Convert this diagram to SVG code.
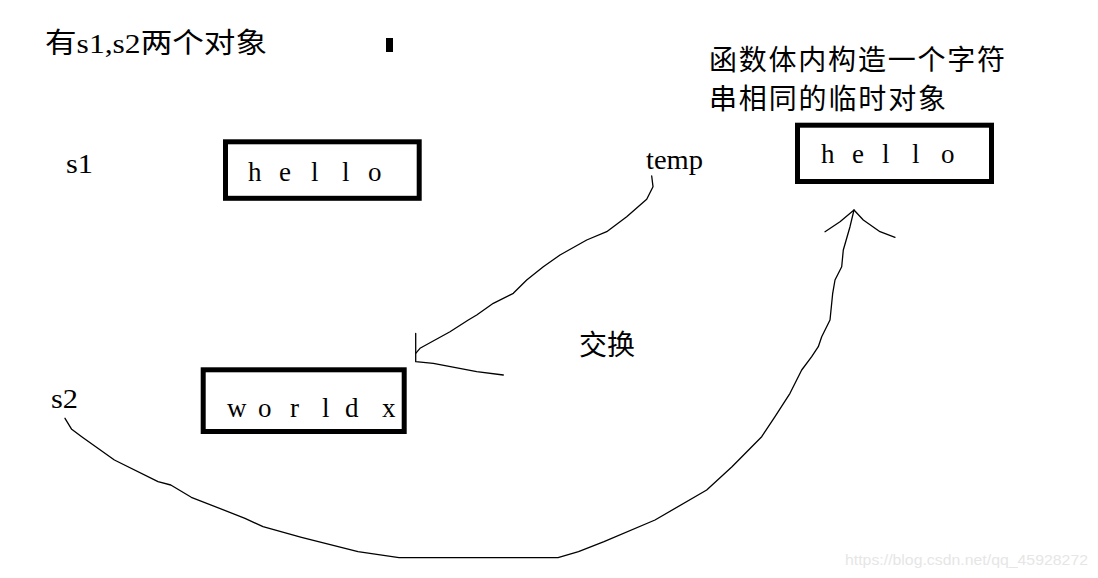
<svg xmlns="http://www.w3.org/2000/svg" width="1098" height="578" viewBox="0 0 1098 578">
<style>
.box{fill:none;stroke:#000;stroke-width:5}
.lat{font-family:"Liberation Serif",serif;font-size:27px;fill:#000}
.cjk{font-family:"Liberation Serif","Noto Sans CJK SC",serif;font-size:28px;fill:#000}
.line{fill:none;stroke:#000;stroke-width:1.3;stroke-linejoin:round;stroke-linecap:round}
</style>
<rect width="1098" height="578" fill="#fff"/>
<g id="title">
<text class="cjk" x="45" y="53" textLength="222" lengthAdjust="spacingAndGlyphs">有s1,s2两个对象</text>
<rect x="386" y="38" width="7" height="14" fill="#000"/>
</g>
<g id="note">
<text class="cjk" x="709" y="70" textLength="296" lengthAdjust="spacing">函数体内构造一个字符</text>
<text class="cjk" x="709" y="109" textLength="237" lengthAdjust="spacing">串相同的临时对象</text>
</g>
<g id="s1">
<text class="lat" x="66" y="173" textLength="27" lengthAdjust="spacingAndGlyphs">s1</text>
<rect class="box" x="225.5" y="141.8" width="193.7" height="56.5"/>
<text class="lat" x="248 279 311 342 368" y="181">hello</text>
</g>
<g id="temp">
<text class="lat" x="646" y="169" textLength="57" lengthAdjust="spacingAndGlyphs">temp</text>
<rect class="box" x="797.5" y="125.2" width="194" height="56.3"/>
<text class="lat" x="821 852 882 912 941" y="163">hello</text>
</g>
<g id="s2">
<text class="lat" x="51" y="408" textLength="27" lengthAdjust="spacingAndGlyphs">s2</text>
<rect class="box" x="203.2" y="369.8" width="201" height="61.7"/>
<text class="lat" x="227 258 290 322 345 382" y="417">worldx</text>
</g>
<g id="swap">
<text class="cjk" x="579" y="355">交换</text>
</g>
<g id="connectors">
<path class="line" d="M651.7,176 L653,186.7 L646.7,199.3 L626.7,216.7 L606.7,231.7 L586.7,240 L560,255 L543.3,266.7 L526.7,280 L513.3,293.3 L493.3,303.3 L476.7,315 L468.3,320 L450,331.7 L420,348.3 L415.7,353.3"/>
<path class="line" d="M415.7,333.3 L415.7,361.7 L433.3,363.3 L476.7,371.7 L503.3,375"/>
<path class="line" d="M65,418.3 L71.7,429.3 L81.7,436.7 L114.4,460 L158,481.7 L170.8,485 L191.3,497.3 L245,518.3 L263,526.7 L301.5,537.3 L358,551.7 L399,557.7 L558,557.7 L578.5,551.7 L604,541.7 L655,520 L706.7,490 L732,466.7 L761.7,436.7 L775,416.7 L790,393.3 L801.7,370 L811.7,356.7 L818.3,346.7 L821.7,336.7 L830,320 L832.7,293.3 L835,280 L841.7,266.7 L843.3,250 L850,226.7 L854,210"/>
<path class="line" d="M825,231.7 L840,221.7 L854,210 L863.3,220 L880,231.7 L895,237.3"/>
</g>
<text x="845" y="565" font-family="Liberation Sans,sans-serif" font-size="15" fill="#e6e6e6" textLength="243" lengthAdjust="spacingAndGlyphs">https://blog.csdn.net/qq_45928272</text>
</svg>
